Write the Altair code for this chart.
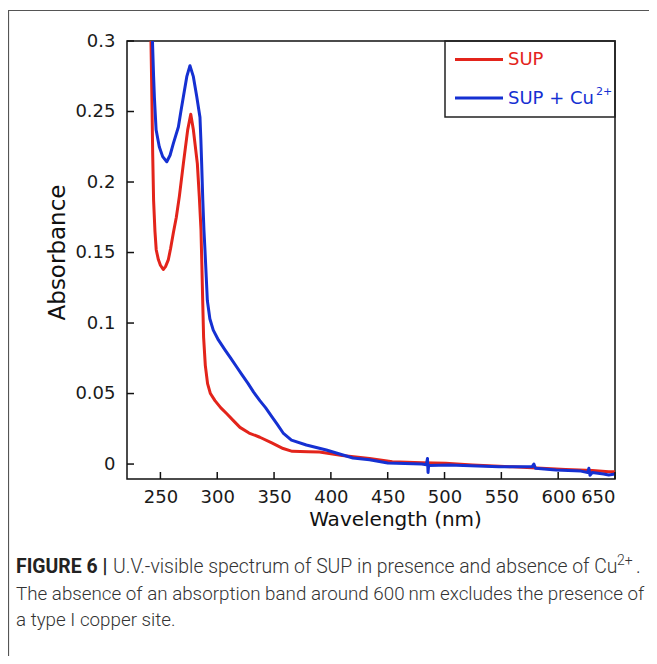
import altair as alt
import pandas as pd

# ---------------- data ----------------
sup_wl = [240.5, 241.7, 242.5, 243.2, 244.0, 245.2, 246.3, 248.2, 250.0, 252.5, 254.5,
          257.0, 259.0, 261.4, 264.0, 266.7, 270.2, 274.0, 276.7, 279.0, 282.5, 284.2,
          285.7, 286.5, 287.2, 288.0, 289.5, 291.5, 294.0, 298.0, 303.0, 308.0, 314.0,
          320.0, 328.0, 337.5, 348.0, 358.0, 366.0, 380.0, 390.0, 410.0, 434.0, 454.0,
          480.0, 501.0, 524.5, 560.0, 606.5, 630.0, 644.5, 650.0]
sup_abs = [0.320, 0.300, 0.260, 0.220, 0.187, 0.165, 0.152, 0.145, 0.141, 0.138, 0.140,
           0.145, 0.153, 0.164, 0.175, 0.190, 0.213, 0.237, 0.248, 0.237, 0.213, 0.190,
           0.166, 0.140, 0.116, 0.090, 0.070, 0.057, 0.050, 0.045, 0.040, 0.036, 0.031,
           0.026, 0.022, 0.019, 0.015, 0.011, 0.009, 0.0088, 0.0085, 0.006, 0.004, 0.0016,
           0.001, 0.0005, -0.0007, -0.002, -0.0038, -0.0045, -0.0055, -0.0055]

cu_wl = [242.0, 243.0, 244.0, 244.7, 246.2, 249.0, 252.0, 255.6, 258.5, 261.4, 265.8,
         268.0, 270.2, 273.2, 276.0, 279.0, 282.0, 284.8, 285.6, 286.3, 287.3, 288.3,
         289.2, 291.3, 293.5, 296.5, 301.0, 306.8, 312.0, 317.0, 322.0, 327.2, 332.0,
         337.5, 342.5, 347.7, 353.0, 358.0, 365.3, 378.4, 396.0, 419.4, 434.0, 450.0,
         480.0, 484.0, 485.0, 485.5, 486.0, 504.0, 548.0, 577.0, 578.6, 580.0, 598.0,
         620.0, 626.0, 627.0, 628.0, 630.0, 640.0, 644.5, 650.0]
cu_abs = [0.320, 0.300, 0.275, 0.260, 0.237, 0.225, 0.218, 0.2144, 0.219, 0.2274, 0.239,
          0.250, 0.2605, 0.2747, 0.2825, 0.2747, 0.2605, 0.246, 0.230, 0.213, 0.187, 0.166,
          0.152, 0.116, 0.103, 0.095, 0.088, 0.081, 0.075, 0.069, 0.063, 0.057, 0.051,
          0.045, 0.040, 0.034, 0.028, 0.022, 0.017, 0.0135, 0.010, 0.0043, 0.003, 0.0008,
          0.0, -0.0005, 0.004, -0.006, -0.001, -0.0007, -0.002, -0.002, 0.0, -0.003, -0.0043,
          -0.005, -0.006, -0.003, -0.008, -0.006, -0.007, -0.0078, -0.007]

x_ticks = [250, 300, 350, 400, 450, 500, 550, 600, 650]
y_ticks = [0, 0.05, 0.1, 0.15, 0.2, 0.25, 0.3]

series_names = ["SUP", "SUP + Cu"]
series_colors = ["#e3241b", "#1530d2"]
superscript = "2+"

x_title = "Wavelength (nm)"
y_title = "Absorbance"
caption_bold = "FIGURE 6 |"
caption_lines = [
    "U.V.-visible spectrum of SUP in presence and absence of Cu",
    "The absence of an absorption band around 600\u2009nm excludes the presence of",
    "a type I copper site.",
]

# ---------------- layout ----------------
W, H = 488, 438
FONT = "DejaVu Sans"
CAP_FONT = "Roboto"
CAP_SIZE = 18.8

xscale = alt.Scale(domain=[220.6, 650], nice=False, zero=False)
yscale = alt.Scale(domain=[-0.0106, 0.3], nice=False, zero=False)

x_axis = alt.Axis(values=x_ticks, tickSize=0, domain=False, grid=False,
                  labelFont=FONT, labelFontSize=18, labelColor="#1a1a1a", labelPadding=9,
                  title=x_title, titleFont=FONT, titleFontSize=20, titleFontWeight="normal",
                  titleColor="#111", titleX=268, titleY=40, titleBaseline="middle",
                  titleAlign="center")
y_axis = alt.Axis(values=y_ticks, format="~g", tickSize=0, domain=False, grid=False,
                  labelFont=FONT, labelFontSize=18, labelColor="#1a1a1a", labelPadding=12,
                  title=y_title, titleFont=FONT, titleFontSize=23, titleFontWeight="normal",
                  titleColor="#111", titleX=-70, titleY=211, titleAngle=270,
                  titleBaseline="middle", titleAlign="center")

X = alt.X("wl:Q", scale=xscale, axis=x_axis)
Y = alt.Y("abs:Q", scale=yscale, axis=y_axis)

sup_df = pd.DataFrame({"wl": sup_wl, "abs": sup_abs})
cu_df = pd.DataFrame({"wl": cu_wl, "abs": cu_abs})
xt_df = pd.DataFrame({"wl": x_ticks})
yt_df = pd.DataFrame({"abs": y_ticks})
one = pd.DataFrame({"k": [0]})

sup_line = alt.Chart(sup_df).mark_line(color=series_colors[0], strokeWidth=3, clip=True,
                                       strokeJoin="round").encode(x=X, y=Y)
cu_line = alt.Chart(cu_df).mark_line(color=series_colors[1], strokeWidth=3, clip=True,
                                     strokeJoin="round").encode(x=X, y=Y)

xticks = alt.Chart(xt_df).mark_rule(color="#111", strokeWidth=1.5).encode(
    x=X, y=alt.value(H), y2=alt.value(H - 7))
yticks = alt.Chart(yt_df).mark_rule(color="#111", strokeWidth=1.5).encode(
    y=Y, x=alt.value(0), x2=alt.value(7))

frame = alt.Chart(one).mark_rect(filled=False, stroke="#555", strokeWidth=1.2).encode(
    x=alt.value(-118.5), x2=alt.value(700), y=alt.value(-30.5), y2=alt.value(900))

# legend
leg_box = alt.Chart(one).mark_rect(filled=False, stroke="#222", strokeWidth=1.5).encode(
    x=alt.value(318), x2=alt.value(W), y=alt.value(0), y2=alt.value(76))
leg_line1 = alt.Chart(one).mark_rule(color=series_colors[0], strokeWidth=3).encode(
    x=alt.value(328), x2=alt.value(376), y=alt.value(18.5))
leg_line2 = alt.Chart(one).mark_rule(color=series_colors[1], strokeWidth=3).encode(
    x=alt.value(328), x2=alt.value(376), y=alt.value(57))
LEG_FONT = "DejaVu Sans"
leg_t1 = alt.Chart(one).mark_text(text=series_names[0], align="left", baseline="middle",
                                  font=LEG_FONT, fontSize=18, color=series_colors[0]).encode(
    x=alt.value(381), y=alt.value(19))
leg_t2 = alt.Chart(one).mark_text(text=series_names[1], align="left", baseline="middle",
                                  font=LEG_FONT, fontSize=18, color=series_colors[1]).encode(
    x=alt.value(381), y=alt.value(58))
leg_t3 = alt.Chart(one).mark_text(text=superscript, align="left", baseline="middle",
                                  font=LEG_FONT, fontSize=11, color=series_colors[1]).encode(
    x=alt.value(469), y=alt.value(51))

# caption
def cap(text, x, y, weight, color, size=CAP_SIZE):
    return alt.Chart(one).mark_text(text=text, align="left", baseline="middle",
                                    font=CAP_FONT, fontSize=size, fontWeight=weight,
                                    color=color).encode(x=alt.value(x), y=alt.value(y))

cap_bold = cap(caption_bold, -111, 526, "bold", "#222", 19.4)
cap1 = cap(caption_lines[0], -14, 526, 300, "#333", 19.4)
cap1_sup = cap(superscript, 490, 520, 300, "#333", 14)
cap1_dot = cap(".", 509, 526, 300, "#333", 19.4)
cap2 = cap(caption_lines[1], -111, 553, 300, "#333")
cap3 = cap(caption_lines[2], -111, 579, 300, "#333")

chart = alt.layer(
    frame, sup_line, cu_line, xticks, yticks,
    leg_box, leg_line1, leg_line2, leg_t1, leg_t2, leg_t3,
    cap_bold, cap1, cap1_sup, cap1_dot, cap2, cap3,
).properties(
    width=W, height=H,
    autosize=alt.AutoSizeParams(type="none"),
    padding={"left": 119, "top": 33, "right": 34, "bottom": 177},
).configure(
    background="white",
    view=alt.ViewConfig(stroke="#111", strokeWidth=1.5),
)

chart.save("out.html", embed_options={"renderer": "svg", "actions": False})
